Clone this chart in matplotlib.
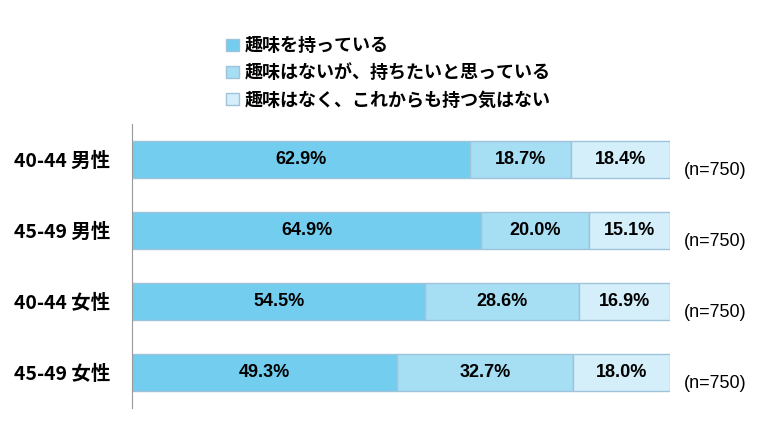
import matplotlib.pyplot as plt
from matplotlib.patches import Patch

plt.rcParams['font.family'] = ['Noto Sans CJK JP']

groups = ['40-44 男性', '45-49 男性', '40-44 女性', '45-49 女性']
series = ['趣味を持っている', '趣味はないが、持ちたいと思っている', '趣味はなく、これからも持つ気はない']
values = [
    [62.9, 64.9, 54.5, 49.3],
    [18.7, 20.0, 28.6, 32.7],
    [18.4, 15.1, 16.9, 18.0],
]
n_labels = ['(n=750)'] * 4
colors = ['#72CDEE', '#A6DEF4', '#D4EFFA']

fig = plt.figure(figsize=(7.69, 4.48), dpi=100)
ax = fig.add_axes([132 / 769, 40 / 448, 538 / 769, 284 / 448])
ys = list(range(len(groups)))
left = [0] * len(groups)
for vals, c, name in zip(values, colors, series):
    ax.barh(ys, vals, left=left, height=0.51, color=c, edgecolor='#9FC3DA', linewidth=1)
    for y, l, v in zip(ys, left, vals):
        ax.text(l + v / 2, y, f'{v:.1f}%', ha='center', va='center', fontsize=13,
                fontweight='bold', fontfamily='Liberation Sans')
    left = [l + v for l, v in zip(left, vals)]
for y, t in zip(ys, n_labels):
    ax.text(102.5, y + 0.15, t, ha='left', va='center', fontsize=13, fontfamily='Liberation Sans')

ax.set_xlim(0, 100)
ax.set_ylim(3.5, -0.5)
ax.set_yticks(ys)
ax.set_yticklabels(groups, fontsize=14, fontweight='bold')
ax.tick_params(left=False, bottom=False, labelbottom=False, pad=12)
for s in ['top', 'right', 'bottom']:
    ax.spines[s].set_visible(False)
ax.spines['left'].set_color('#999999')

handles = [Patch(facecolor=c, edgecolor='#9FC3DA') for c in colors]
fig.legend(handles, series, loc='upper left', bbox_to_anchor=(210 / 769, 1 - 20 / 448),
           frameon=False, handlelength=0.7, handleheight=0.7,
           handletextpad=0.3, labelspacing=0.45, prop={'weight': 'bold', 'size': 13})
fig.savefig('out.png', dpi=100)
